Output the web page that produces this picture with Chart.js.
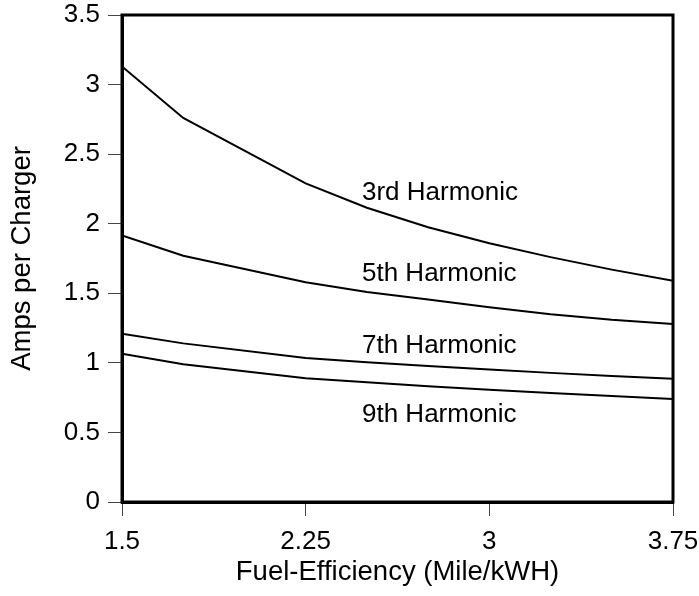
<!DOCTYPE html>
<html>
<head>
<meta charset="utf-8">
<script src="https://cdn.jsdelivr.net/npm/chart.js@4.4.1/dist/chart.umd.min.js"></script>
<style>
  html, body { margin: 0; padding: 0; background: #fff; }
  #wrap { width: 699px; height: 596px; position: relative; }
</style>
</head>
<body>
<div id="wrap"><canvas id="c" width="699" height="596"></canvas></div>
<script>
// ---- Data ----
const xValues = [1.5, 1.75, 2.25, 2.5, 2.75, 3.0, 3.25, 3.5, 3.75];
const harmonic3 = [3.13, 2.76, 2.29, 2.115, 1.975, 1.86, 1.76, 1.67, 1.59];
const harmonic5 = [1.915, 1.77, 1.58, 1.51, 1.455, 1.40, 1.35, 1.31, 1.28];
const harmonic7 = [1.21, 1.14, 1.035, 1.005, 0.978, 0.953, 0.928, 0.905, 0.885];
const harmonic9 = [1.065, 0.99, 0.89, 0.86, 0.832, 0.807, 0.784, 0.762, 0.741];

const seriesNames = ['3rd Harmonic', '5th Harmonic', '7th Harmonic', '9th Harmonic'];
const labelX = [2.48, 2.48, 2.48, 2.48];
const labelY = [2.225, 1.64, 1.12, 0.63];

const xTickValues = [1.5, 2.25, 3, 3.75];
const xTickLabels = ['1.5', '2.25', '3', '3.75'];
const yTickValues = [0, 0.5, 1, 1.5, 2, 2.5, 3, 3.5];
const yTickLabels = ['0', '0.5', '1', '1.5', '2', '2.5', '3', '3.5'];

const xTitle = 'Fuel-Efficiency (Mile/kWH)';
const yTitle = 'Amps per Charger';

const FONT = "'Liberation Sans', Arial, sans-serif";

function toPoints(ys) { return xValues.map((x, i) => ({ x: x, y: ys[i] })); }

const allSeries = [harmonic3, harmonic5, harmonic7, harmonic9];

const frameAndLabels = {
  id: 'frameAndLabels',
  afterDatasetsDraw(chart) {
    const ctx = chart.ctx;
    const a = chart.chartArea;
    ctx.save();
    ctx.strokeStyle = '#000';
    ctx.lineWidth = 3;
    ctx.strokeRect(a.left, a.top, a.right - a.left, a.bottom - a.top);
    ctx.fillStyle = '#000';
    ctx.font = '26px ' + FONT;
    ctx.textAlign = 'left';
    ctx.textBaseline = 'middle';
    const xs = chart.scales.x, ys = chart.scales.y;
    seriesNames.forEach((n, i) => {
      ctx.fillText(n, xs.getPixelForValue(labelX[i]), ys.getPixelForValue(labelY[i]));
    });
    ctx.restore();
  }
};

new Chart(document.getElementById('c'), {
  type: 'line',
  data: {
    datasets: allSeries.map((s, i) => ({
      label: seriesNames[i],
      data: toPoints(s),
      borderColor: '#000',
      borderWidth: 2,
      pointRadius: 0,
      tension: 0,
      fill: false
    }))
  },
  options: {
    responsive: false,
    animation: false,
    layout: { padding: { left: 0, right: 26, top: 15, bottom: 0 } },
    plugins: { legend: { display: false }, tooltip: { enabled: false } },
    scales: {
      x: {
        type: 'linear',
        min: 1.5,
        max: 3.75,
        afterBuildTicks(scale) { scale.ticks = xTickValues.map(v => ({ value: v })); },
        afterFit(scale) { scale.height = 94; scale.paddingLeft = 0; scale.paddingRight = 0; },
        ticks: {
          color: '#000',
          font: { family: FONT, size: 26 },
          padding: 10,
          maxRotation: 0,
          autoSkip: false,
          callback: (v) => { const i = xTickValues.indexOf(v); return i >= 0 ? xTickLabels[i] : ''; }
        },
        grid: { drawOnChartArea: false, drawTicks: true, tickLength: 14, color: '#444', lineWidth: 1 },
        border: { display: true, color: '#000', width: 3 },
        title: { display: true, text: xTitle, color: '#000', font: { family: FONT, size: 27.5 }, padding: { top: 0, bottom: 7 } }
      },
      y: {
        type: 'linear',
        min: 0,
        max: 3.5,
        afterBuildTicks(scale) { scale.ticks = yTickValues.map(v => ({ value: v })); },
        afterFit(scale) { scale.width = 122; scale.paddingTop = 0; scale.paddingBottom = 0; },
        ticks: {
          color: '#000',
          font: { family: FONT, size: 26 },
          padding: 8,
          autoSkip: false,
          callback: (v) => { const i = yTickValues.indexOf(v); return i >= 0 ? yTickLabels[i] : ''; }
        },
        grid: { drawOnChartArea: false, drawTicks: true, tickLength: 14, color: '#444', lineWidth: 1 },
        border: { display: true, color: '#000', width: 3 },
        title: { display: true, text: yTitle, color: '#000', font: { family: FONT, size: 27.5 }, padding: { top: 6, bottom: 0 } }
      }
    }
  },
  plugins: [frameAndLabels]
});
</script>
</body>
</html>
